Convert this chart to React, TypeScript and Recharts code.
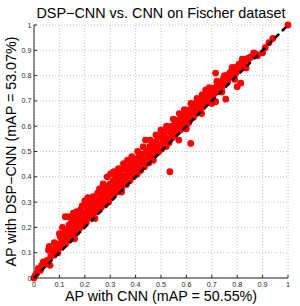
import { ScatterChart, Scatter, XAxis, YAxis, CartesianGrid, Label } from "recharts";

// AP pairs per image class: [AP with CNN, AP with DSP-CNN]
const apLow: [number, number][] = [
  [0, 0], [0.005, 0.01], [0.012, 0.02], [0.017, 0.038], [0.025, 0.03], [0.03, 0.05], [0.037, 0.064], [0.045, 0.055],
  [0.052, 0.07], [0.057, 0.11], [0.063, 0.05], [0.066, 0.085], [0.072, 0.098], [0.078, 0.09], [0.083, 0.115],
  [0.088, 0.124], [0.094, 0.1], [0.098, 0.135],
  [0.103, 0.163], [0.105, 0.12], [0.11, 0.145], [0.114, 0.13], [0.118, 0.175], [0.122, 0.155], [0.125, 0.135],
  [0.129, 0.19], [0.129, 0.144], [0.134, 0.168], [0.138, 0.21], [0.141, 0.15], [0.145, 0.185], [0.148, 0.225],
  [0.123, 0.242], [0.136, 0.242], [0.155, 0.256], [0.152, 0.17], [0.157, 0.2], [0.162, 0.23], [0.166, 0.18],
  [0.17, 0.215], [0.174, 0.245], [0.178, 0.195], [0.183, 0.27], [0.186, 0.225], [0.19, 0.205], [0.194, 0.255],
  [0.198, 0.235],
  [0.203, 0.29], [0.206, 0.22], [0.21, 0.265], [0.215, 0.256], [0.218, 0.24], [0.221, 0.308], [0.225, 0.28],
  [0.228, 0.295], [0.232, 0.25], [0.236, 0.27], [0.24, 0.31], [0.243, 0.26], [0.247, 0.29], [0.25, 0.335],
];

const apMid: [number, number][] = [
  [0.254, 0.275], [0.257, 0.3], [0.262, 0.32], [0.265, 0.28], [0.268, 0.345], [0.272, 0.305], [0.275, 0.33],
  [0.28, 0.289], [0.283, 0.355], [0.287, 0.31], [0.29, 0.335], [0.294, 0.3], [0.297, 0.37], [0.3, 0.325],
  [0.304, 0.345], [0.307, 0.32], [0.311, 0.385], [0.314, 0.36], [0.318, 0.335], [0.322, 0.4], [0.325, 0.37],
  [0.328, 0.34], [0.332, 0.39], [0.336, 0.355], [0.34, 0.415], [0.343, 0.375], [0.347, 0.36], [0.35, 0.4],
  [0.354, 0.43], [0.357, 0.38], [0.36, 0.405], [0.364, 0.37], [0.367, 0.44], [0.371, 0.395], [0.374, 0.42],
  [0.378, 0.385], [0.382, 0.455], [0.385, 0.41], [0.389, 0.43], [0.392, 0.4], [0.396, 0.46], [0.4, 0.42],
  [0.403, 0.44], [0.406, 0.41], [0.41, 0.475], [0.413, 0.43], [0.417, 0.455], [0.42, 0.425], [0.424, 0.49],
  [0.428, 0.445], [0.431, 0.47], [0.435, 0.44], [0.439, 0.545], [0.442, 0.5], [0.445, 0.46], [0.449, 0.48],
  [0.452, 0.455], [0.456, 0.52], [0.459, 0.49], [0.463, 0.47], [0.467, 0.505], [0.47, 0.53], [0.474, 0.485],
  [0.478, 0.51], [0.481, 0.54], [0.485, 0.495], [0.489, 0.525], [0.492, 0.5], [0.496, 0.56], [0.5, 0.52],
  [0.503, 0.51], [0.507, 0.545], [0.51, 0.57], [0.514, 0.53], [0.518, 0.555], [0.521, 0.52], [0.525, 0.585],
  [0.529, 0.55], [0.532, 0.535], [0.535, 0.42], [0.538, 0.575], [0.542, 0.6], [0.545, 0.555], [0.549, 0.585],
  [0.553, 0.565], [0.556, 0.61], [0.56, 0.59], [0.563, 0.575], [0.567, 0.625], [0.57, 0.545], [0.574, 0.6],
  [0.577, 0.585], [0.581, 0.635], [0.585, 0.61], [0.588, 0.595], [0.592, 0.645], [0.596, 0.62], [0.6, 0.605],
];

const apHigh: [number, number][] = [
  [0.603, 0.655], [0.606, 0.63], [0.61, 0.615], [0.613, 0.665], [0.617, 0.532], [0.62, 0.64], [0.624, 0.675],
  [0.628, 0.635], [0.631, 0.66], [0.635, 0.69], [0.638, 0.65], [0.642, 0.665], [0.646, 0.7], [0.65, 0.67],
  [0.653, 0.655], [0.657, 0.69], [0.66, 0.71], [0.664, 0.675], [0.668, 0.7], [0.672, 0.685], [0.676, 0.743],
  [0.68, 0.715], [0.683, 0.695], [0.687, 0.725], [0.69, 0.705], [0.694, 0.74], [0.697, 0.715],
  [0.701, 0.73], [0.704, 0.715], [0.708, 0.75], [0.712, 0.73], [0.715, 0.81], [0.715, 0.697], [0.719, 0.745],
  [0.722, 0.765], [0.726, 0.74], [0.73, 0.755], [0.734, 0.775], [0.738, 0.75], [0.742, 0.77], [0.746, 0.79],
  [0.75, 0.765], [0.755, 0.707], [0.754, 0.78], [0.758, 0.8], [0.762, 0.775], [0.766, 0.79], [0.77, 0.81],
  [0.774, 0.795], [0.778, 0.82], [0.782, 0.8], [0.786, 0.815], [0.79, 0.83], [0.795, 0.81], [0.8, 0.756],
  [0.8, 0.835], [0.804, 0.82], [0.808, 0.845], [0.814, 0.77], [0.812, 0.83], [0.817, 0.85], [0.822, 0.84],
  [0.826, 0.855], [0.83, 0.835], [0.835, 0.865], [0.84, 0.86], [0.845, 0.87], [0.85, 0.87],
  [0.855, 0.875], [0.865, 0.89], [0.875, 0.885], [0.9, 0.89], [0.91, 0.91], [0.925, 0.93], [0.94, 0.947], [1, 1],
];

// classes lying on the outer edges of the band
const apEdge: [number, number][] = [
  [0.06, 0.125], [0.08, 0.14], [0.1, 0.175], [0.112, 0.2], [0.15, 0.238], [0.168, 0.262], [0.19, 0.285],
  [0.2, 0.305], [0.212, 0.318], [0.232, 0.322], [0.258, 0.352], [0.272, 0.372], [0.288, 0.4], [0.302, 0.412],
  [0.315, 0.42], [0.332, 0.432], [0.352, 0.452], [0.368, 0.466], [0.385, 0.48], [0.408, 0.5], [0.43, 0.518],
  [0.458, 0.545], [0.48, 0.566], [0.5, 0.585], [0.522, 0.6], [0.548, 0.628], [0.572, 0.65], [0.592, 0.665],
  [0.618, 0.69], [0.642, 0.71], [0.662, 0.725], [0.69, 0.752], [0.72, 0.778], [0.75, 0.8], [0.78, 0.832],
  [0.82, 0.865],
  [0.16, 0.155], [0.24, 0.235], [0.345, 0.34], [0.47, 0.465], [0.6, 0.59], [0.66, 0.65], [0.7, 0.69],
  [0.74, 0.735], [0.79, 0.785], [0.835, 0.83], [0.88, 0.878],
];

const diagonal: [number, number][] = [[0, 0], [1, 1]];
const tickValues = [0, 0.1, 0.2, 0.3, 0.4, 0.5, 0.6, 0.7, 0.8, 0.9, 1];

const FONT = '"Liberation Sans", Arial, sans-serif';
const INK = "#262626";

const points = [...apLow, ...apMid, ...apHigh, ...apEdge].map(([cnn, dsp]) => ({ cnn, dsp }));
const diagPoints = diagonal.map(([cnn, dsp]) => ({ cnn, dsp }));

const Dot = (props: any) => <circle cx={props.cx} cy={props.cy} r={3.4} fill="#ff0000" />;

export default function App() {
  return (
    <div style={{ position: "absolute", left: 0, top: 0, width: 300, height: 306, background: "#fff", fontFamily: FONT }}>
      <div
        style={{
          position: "absolute", left: 0, top: 6, width: 322, textAlign: "center",
          fontSize: 14.4, lineHeight: "1", color: "#000", whiteSpace: "nowrap",
        }}
      >
        DSP−CNN vs. CNN on Fischer dataset
      </div>
      <ScatterChart width={300} height={306} margin={{ top: 25, right: 12, left: 0, bottom: 0 }}>
        <CartesianGrid stroke="#c4c4c4" strokeDasharray="1 2" />
        <XAxis
          type="number"
          dataKey="cnn"
          domain={[0, 1]}
          ticks={tickValues}
          height={28}
          tick={{ fontSize: 7.2, fill: INK, fontFamily: FONT }}
          tickFormatter={(v: number) => String(v)}
          axisLine={{ stroke: INK }}
          tickLine={{ stroke: INK }}
          tickSize={-3}
          tickMargin={6.4}
        >
          <Label value="AP with CNN (mAP = 50.55%)" position="insideBottom" offset={5} fontSize={14.3} fill="#000" fontFamily={FONT} />
        </XAxis>
        <YAxis
          type="number"
          dataKey="dsp"
          domain={[0, 1]}
          ticks={tickValues}
          width={34}
          tick={{ fontSize: 7.2, fill: INK, fontFamily: FONT }}
          tickFormatter={(v: number) => String(v)}
          axisLine={{ stroke: INK }}
          tickLine={{ stroke: INK }}
          tickSize={-3}
          tickMargin={5.5}
        >
          <Label
            value="AP with DSP−CNN (mAP = 53.07%)"
            angle={-90}
            position="insideLeft"
            offset={11}
            fontSize={14.3}
            fill="#000"
            fontFamily={FONT}
            style={{ textAnchor: "middle" }}
          />
        </YAxis>
        <Scatter data={points} shape={Dot} isAnimationActive={false} />
        <Scatter
          data={diagPoints}
          shape={() => <g />}
          line={{ stroke: "#000", strokeWidth: 2.5, strokeDasharray: "6 4" }}
          isAnimationActive={false}
        />
      </ScatterChart>
    </div>
  );
}
